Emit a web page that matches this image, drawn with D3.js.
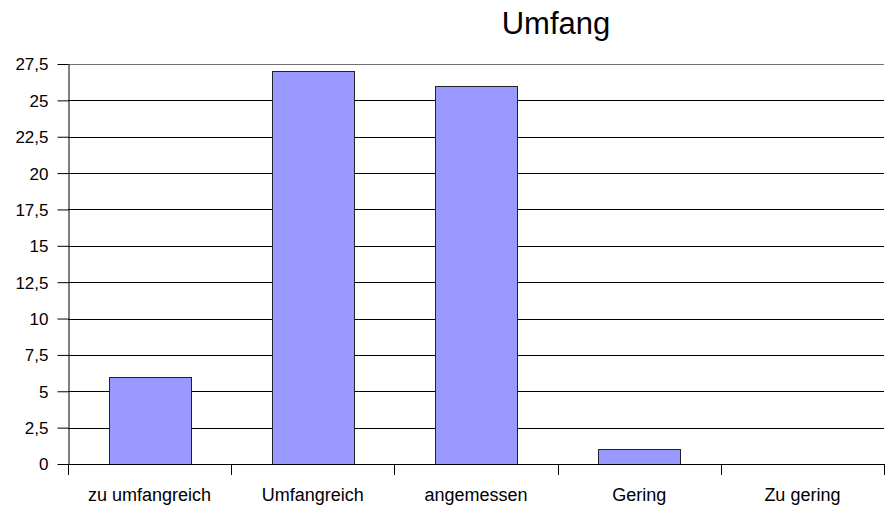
<!DOCTYPE html>
<html>
<head>
<meta charset="utf-8">
<script src="https://cdn.jsdelivr.net/npm/d3@7"></script>
<style>
body { margin: 0; background: #fff; }
text { font-family: "Liberation Sans", Arial, sans-serif; fill: #000; }
</style>
</head>
<body>
<svg width="888" height="508"></svg>
<script>
var categories = ["zu umfangreich", "Umfangreich", "angemessen", "Gering", "Zu gering"];
var values = [6, 27, 26, 1, 0];
var yTicks = [0, 2.5, 5, 7.5, 10, 12.5, 15, 17.5, 20, 22.5, 25, 27.5];

var svg = d3.select("svg"),
  margin = { top: 64, right: 4, bottom: 44, left: 68 },
  width = +svg.attr("width") - margin.left - margin.right,
  height = +svg.attr("height") - margin.top - margin.bottom;

var x = d3.scaleBand().domain(categories).range([margin.left, margin.left + width])
  .paddingInner(0.5).paddingOuter(0.25);
var y = d3.scaleLinear().domain([0, 27.5]).range([margin.top + height, margin.top]);

var fmt = function(d) { return String(d).replace(".", ","); };

// gridlines
svg.append("g")
  .selectAll("line")
  .data(yTicks.slice(1))
  .enter().append("line")
  .attr("x1", margin.left).attr("x2", margin.left + width)
  .attr("y1", function(d) { return Math.round(y(d)) + 0.5; })
  .attr("y2", function(d) { return Math.round(y(d)) + 0.5; })
  .style("stroke", function(d) { return d === 27.5 ? "#707070" : "#000"; })
  .style("stroke-width", 1);

// y axis
var yAxis = svg.append("g")
  .attr("transform", "translate(" + (margin.left + 0.5) + ",0)")
  .call(d3.axisLeft(y).tickValues(yTicks).tickFormat(fmt).tickSize(11).tickSizeOuter(0));
yAxis.select(".domain").style("stroke", "#000");
yAxis.selectAll(".tick line").style("stroke", "#000");
yAxis.selectAll("text").style("font-size", "17px").attr("x", -20).attr("dy", "0.35em")
  .style("font-family", "Liberation Sans, Arial, sans-serif");

// bars
svg.append("g")
  .selectAll("rect")
  .data(values)
  .enter().append("rect")
  .attr("x", function(d, i) { return Math.round(x(categories[i])) + 0.5; })
  .attr("y", function(d) { return Math.round(y(d)) + 0.5; })
  .attr("width", Math.round(x.bandwidth()))
  .attr("height", function(d) { return Math.round(y(0)) - Math.round(y(d)); })
  .style("fill", "#9999ff")
  .style("stroke", "#222")
  .style("stroke-width", 1);

// x axis
var step = x.step();
var bounds = d3.range(categories.length + 1).map(function(i) { return margin.left + i * step; });
var xg = svg.append("g");
xg.append("line")
  .attr("x1", margin.left).attr("x2", margin.left + width)
  .attr("y1", Math.round(y(0)) + 0.5).attr("y2", Math.round(y(0)) + 0.5)
  .style("stroke", "#000");
xg.selectAll(".tk")
  .data(bounds)
  .enter().append("line")
  .attr("class", "tk")
  .attr("x1", function(d) { return Math.round(d) + 0.5; })
  .attr("x2", function(d) { return Math.round(d) + 0.5; })
  .attr("y1", Math.round(y(0))).attr("y2", Math.round(y(0)) + 11)
  .style("stroke", "#000");
xg.selectAll("text")
  .data(categories)
  .enter().append("text")
  .attr("x", function(d) { return x(d) + x.bandwidth() / 2; })
  .attr("y", 501)
  .attr("text-anchor", "middle")
  .style("font-size", "18px")
  .text(function(d) { return d; });

// title
svg.append("text")
  .attr("x", 556).attr("y", 34)
  .attr("text-anchor", "middle")
  .style("font-size", "31px")
  .text("Umfang");
</script>
</body>
</html>
